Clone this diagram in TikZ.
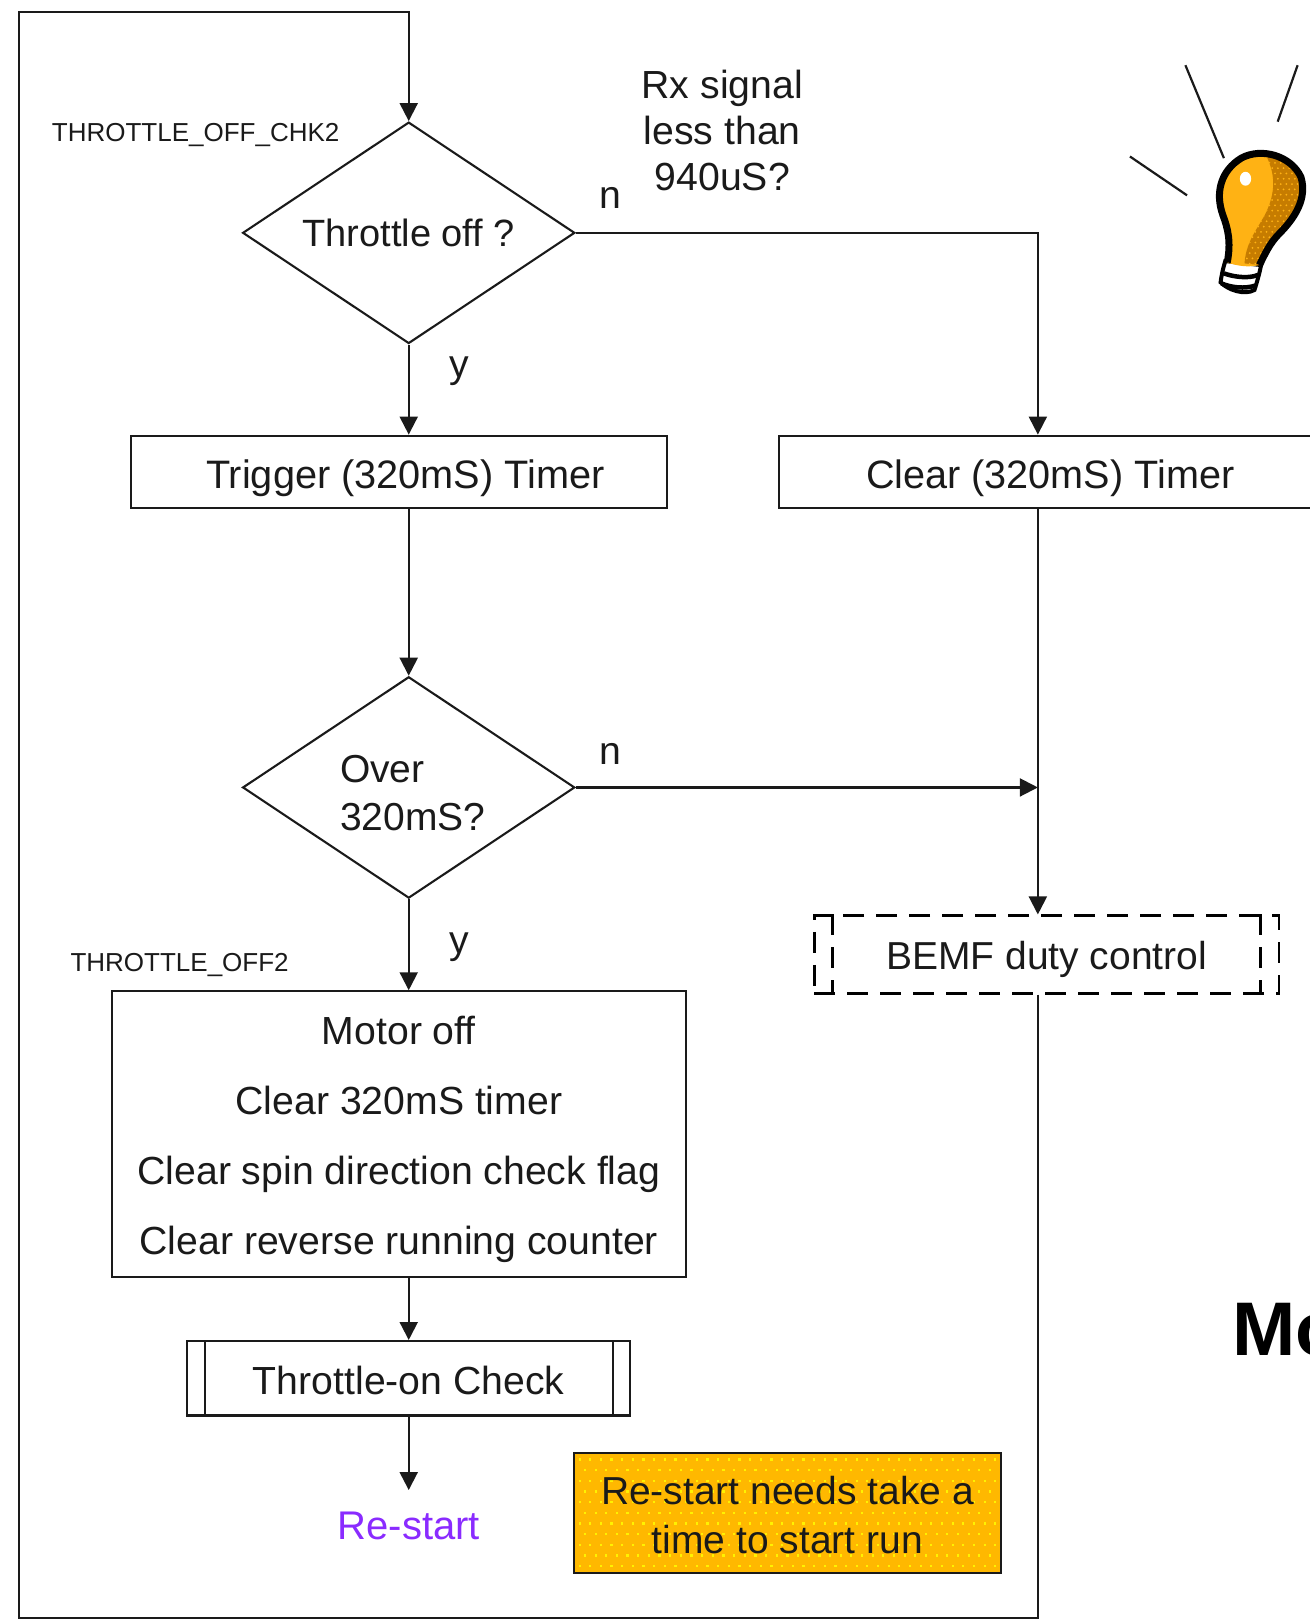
\documentclass[tikz,border=0pt]{standalone}
\usepackage{fontspec}
\setmainfont{Liberation Sans}
\usetikzlibrary{shapes.geometric,arrows.meta,calc}
\definecolor{ink}{HTML}{1A1A1A}
\definecolor{amber}{HTML}{FFB800}
\definecolor{bulbamber}{HTML}{FFB214}
\definecolor{bulbdark}{HTML}{C67C00}
\definecolor{restart}{HTML}{8A2BFF}
\newcommand{\bigtxt}{\fontsize{39.2}{46}\selectfont}
\newcommand{\smalltxt}{\fontsize{26}{30}\selectfont}
\newcommand{\lowr}[1]{\rule{0pt}{#1pt}}
\tikzset{
  flow/.style={draw=ink,line width=2.1pt,line join=miter},
  arr/.style={flow,-{Triangle[length=18pt,width=18pt]}},
  decide/.style={flow,diamond,aspect=1.5,inner sep=0pt,minimum width=332.2pt,minimum height=221.4pt,font=\fontsize{38}{46}\selectfont,align=left,text=ink},
  stepbox/.style={flow,rectangle,inner sep=0pt,font=\bigtxt,align=center,text=ink},
  lab/.style={inner sep=0pt,font=\bigtxt,text=ink,align=center},
  tag/.style={inner sep=0pt,font=\smalltxt,text=ink},
  dashline/.style={draw=black,line width=2.6pt,dash pattern=on 21pt off 12pt},
  ray/.style={draw=ink,line width=2.2pt}
}
\begin{document}
\begin{tikzpicture}[x=1.0348pt,y=-1.0348pt]
\useasboundingbox (0,0) rectangle (1266,1568.5);
\coordinate (rail) at (1003,0);
\coordinate (ftl) at (18,12);
\coordinate (fbl) at (18,1564);
\coordinate (restartin) at (395,1440);

\node[decide] (d1) at (395,225) {Throttle off ?};
\node[stepbox,minimum width=536pt,minimum height=72.4pt,font=\fontsize{39.7}{46}\selectfont] (trigger) at (386,456) {\lowr{41}\hspace*{12pt}Trigger (320mS) Timer};
\node[stepbox,minimum width=542.2pt,minimum height=72.4pt,font=\fontsize{39.6}{46}\selectfont] (clear) at (1015,456) {\lowr{41}Clear (320mS) Timer};
\node[decide,font=\fontsize{39}{48}\selectfont] (d2) at (395,761) {\lowr{38}\hspace*{8pt}Over\\\hspace*{8pt}320mS?};
\node[stepbox,minimum width=574.3pt,minimum height=285.6pt,font=\fontsize{39.2}{70.3}\selectfont] (motor) at (385.5,1096) {\lowr{39}Motor off\\Clear 320mS timer\\Clear spin direction check flag\\Clear reverse running counter};
\node[stepbox,minimum width=442.9pt,minimum height=74.5pt] (check) at (395,1332) {\lowr{32}Throttle-on Check};
\draw[flow] ($(check.north west)+(18,0)$) -- ($(check.south west)+(18,0)$);
\draw[flow] ($(check.north east)+(-18,0)$) -- ($(check.south east)+(-18,0)$);
\node[lab,text=restart,font=\fontsize{40}{46}\selectfont] (restart) at (395,1475) {Re-start};

\node[stepbox,minimum width=426.3pt,minimum height=120pt,fill=amber,font=\fontsize{39}{48.5}\selectfont,
  path picture={
    \foreach \i in {-21,...,21}{\foreach \j in {-6,...,6}{
      \pgfmathsetmacro{\px}{(\i+0.5*mod(\j+6,2))*10.3}
      \pgfmathsetmacro{\py}{\j*10.3}
      \fill[yellow] ($(path picture bounding box.center)+(\px,\py)$) +(-1.1pt,-1.1pt) rectangle +(1.1pt,1.1pt);
    }}
  }] (note) at (761,1462) {\lowr{33}Re-start needs take a\\time to start run};

\node[rectangle,inner sep=0pt,minimum width=464.6pt,minimum height=77.6pt,font=\fontsize{39}{46}\selectfont,text=ink,dashline] (bemf) at (1011.5,922.5) {\lowr{37}BEMF duty control};
\draw[dashline] ($(bemf.north west)+(19,0)$) -- ($(bemf.south west)+(19,0)$);
\draw[dashline] ($(bemf.north east)+(-19,0)$) -- ($(bemf.south east)+(-19,0)$);

\draw[arr] (d1.south) -- (d1.south |- trigger.north);
\draw[arr] (d1.east) -| (rail |- clear.north);
\draw[arr] (d1.south |- trigger.south) -- (d2.north);
\draw[arr] (d2.east) -- (d2.east -| rail);
\draw[arr] (d2.south) -- (d2.south |- motor.north);
\draw[arr] (rail |- clear.south) -- (rail |- bemf.north);
\draw[arr] (d2.south |- motor.south) -- (d2.south |- check.north);
\draw[arr] (d2.south |- check.south) -- (restartin);
\draw[arr] (rail |- bemf.south) |- (fbl) -- (ftl) -| (d1.north);

\node[lab] (n1) at (590,191) {n};
\node[lab] (y1) at (444,359) {y};
\node[lab] (n2) at (590,729) {n};
\node[lab] (y2) at (444,915) {y};
\node[lab] (rx) at (698,126.5) {Rx signal\\less than\\940uS?};
\node[tag,anchor=west] (chk) at (50,130) {THROTTLE\_OFF\_CHK2};
\node[tag,anchor=west] (off) at (68,933) {THROTTLE\_OFF2};
\node[inner sep=0pt,anchor=base west,font=\fontsize{76}{80}\selectfont\bfseries,text=black] (mo) at (1191,1310) {Mo};

% light bulb, coordinates in 3x zoom pixels
\begin{scope}[shift={(1045.5,38)},x=0.332pt,y=-0.332pt]
  \draw[ray] (312,78) -- (428,358);
  \draw[ray] (650,78) -- (590,248);
  \draw[ray] (145,353) -- (317,470);
  \path[fill=white,draw=black,line width=4pt] (432,668) .. controls (424,695) and (420,715) .. (418,732) .. controls (440,755) and (490,772) .. (520,755) .. controls (528,730) and (535,705) .. (540,680) -- cycle;
  \draw[black,line width=4.5pt] (428,705) .. controls (455,715) and (500,722) .. (530,710);
  \draw[black,line width=4.5pt] (420,735) .. controls (450,748) and (490,752) .. (522,742);
  \path[fill=bulbamber] (438,672) .. controls (450,610) and (440,570) .. (425,530) .. controls (400,460) and (420,395) .. (480,358) .. controls (540,325) and (630,350) .. (660,415) .. controls (680,480) and (640,540) .. (595,585) .. controls (565,615) and (550,650) .. (535,680) .. controls (500,688) and (465,682) .. (438,672) -- cycle;
  \begin{scope}
    \clip (555,350) .. controls (580,400) and (585,450) .. (560,510) .. controls (540,560) and (495,600) .. (490,675) -- (535,680) .. controls (550,650) and (565,615) .. (595,585) .. controls (640,540) and (680,480) .. (660,415) .. controls (640,370) and (600,345) .. (555,350) -- cycle;
    \fill[bulbdark] (470,330) rectangle (690,700);
    \foreach \i in {0,...,13}{\foreach \j in {0,...,22}{
      \pgfmathsetmacro{\px}{480+(\i+0.5*mod(\j,2))*17}
      \pgfmathsetmacro{\py}{340+\j*16}
      \fill[bulbamber] (\px,\py) circle (3);
    }}
  \end{scope}
  \path[draw=black,line width=7pt,line join=round] (438,672) .. controls (450,610) and (440,570) .. (425,530) .. controls (400,460) and (420,395) .. (480,358) .. controls (540,325) and (630,350) .. (660,415) .. controls (680,480) and (640,540) .. (595,585) .. controls (565,615) and (550,650) .. (535,680);
  \fill[white] (493,420) ellipse (17 and 21);
\end{scope}
\end{tikzpicture}
\end{document}
